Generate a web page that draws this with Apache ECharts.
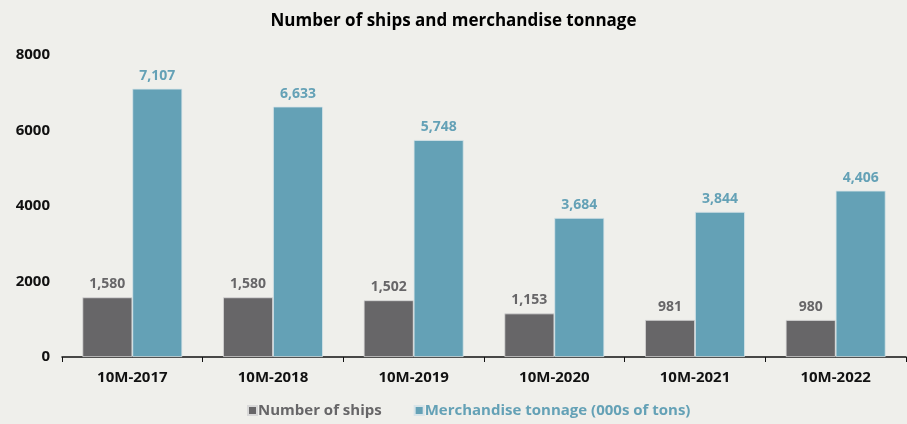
<!DOCTYPE html>
<html>
<head>
<meta charset="utf-8">
<script src="https://cdn.jsdelivr.net/npm/echarts@6/dist/echarts.min.js"></script>
<style>
html,body{margin:0;padding:0;background:#efefeb;}
#c{width:907px;height:424px;}
</style>
</head>
<body>
<div id="c"></div>
<script>
const categories = ['10M-2017','10M-2018','10M-2019','10M-2020','10M-2021','10M-2022'];
const ships = [1580, 1580, 1502, 1153, 981, 980];
const tonnage = [7107, 6633, 5748, 3684, 3844, 4406];
const yTicks = [0, 2000, 4000, 6000, 8000];

const FONT = '"Open Sans", "Noto Sans", sans-serif';
const GRAY = '#676668';
const BLUE = '#64a1b6';
const fmt = v => v.toLocaleString('en-US');

const chart = echarts.init(document.getElementById('c'));
chart.setOption({
  backgroundColor: '#efefeb',
  animation: false,
  title: {
    text: 'Number of ships and merchandise tonnage',
    left: 'center', top: 8,
    textStyle: {fontFamily: FONT, fontWeight: 'bold', fontSize: 17, color: '#000'}
  },
  legend: {
    bottom: 1, left: 242,
    itemWidth: 9, itemHeight: 9, itemGap: 32,
    icon: 'rect',
    data: [
      {name: 'Number of ships', textStyle: {color: GRAY}},
      {name: 'Merchandise tonnage (000s of tons)', textStyle: {color: BLUE}}
    ],
    textStyle: {fontFamily: FONT, fontWeight: 'bold', fontSize: 15, padding: [0,0,0,-4]}
  },
  grid: {left: 62, right: 1, top: 55, bottom: 67, containLabel: false},
  xAxis: {
    type: 'category', data: categories,
    axisLine: {lineStyle: {color: '#111', width: 1.5}},
    axisTick: {show: true, length: 5, lineStyle: {color: '#111'}},
    axisLabel: {fontFamily: FONT, fontWeight: 'bold', fontSize: 15, color: '#111', margin: 13}
  },
  yAxis: {
    type: 'value', min: yTicks[0], max: yTicks[yTicks.length-1], interval: 2000,
    axisLine: {show: false}, axisTick: {show: false},
    splitLine: {show: false},
    axisLabel: {fontFamily: FONT, fontWeight: 'bold', fontSize: 15, color: '#111', margin: 12,
      formatter: v => String(v)}
  },
  series: [
    {
      name: 'Number of ships', type: 'bar', data: ships,
      barGap: '0%', barCategoryGap: '29%',
      itemStyle: {color: GRAY, borderColor: '#d8d8d8', borderWidth: 0.8},
      label: {show: true, position: 'top', distance: 6, formatter: p => fmt(p.value),
        fontFamily: FONT, fontWeight: 'bold', fontSize: 14, color: GRAY}
    },
    {
      name: 'Merchandise tonnage (000s of tons)', type: 'bar', data: tonnage,
      barGap: '0%', barCategoryGap: '29%',
      itemStyle: {color: BLUE, borderColor: '#d8e4e8', borderWidth: 0.8},
      label: {show: true, position: 'top', distance: 6, formatter: p => fmt(p.value),
        fontFamily: FONT, fontWeight: 'bold', fontSize: 14, color: BLUE}
    }
  ]
});
</script>
</body>
</html>
